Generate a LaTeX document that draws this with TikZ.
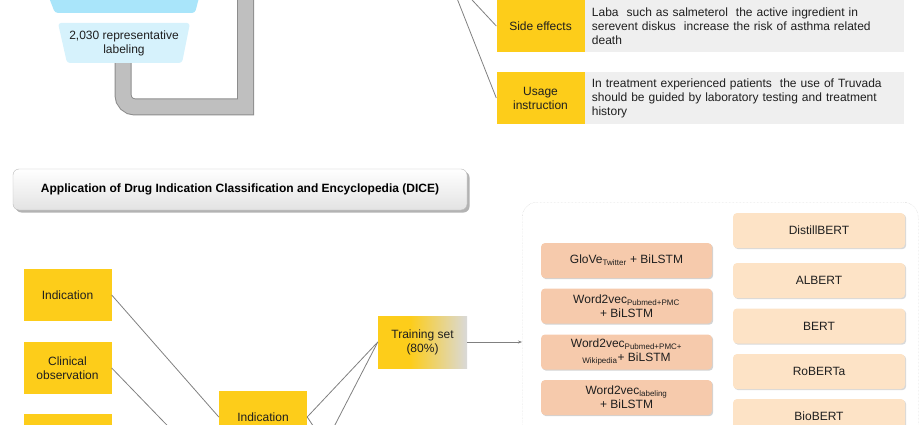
\documentclass[tikz,border=0pt]{standalone}
\usepackage{fontspec}
\setmainfont{Liberation Sans}
\usetikzlibrary{shadows,arrows.meta}

\definecolor{goldbox}{HTML}{FDCD1A}
\definecolor{inkdark}{HTML}{1F1F1F}
\definecolor{notegray}{HTML}{EFEFEF}
\definecolor{fadegray}{HTML}{D9D9D9}
\definecolor{salmon}{HTML}{F6CAAC}
\definecolor{peach}{HTML}{FDE3C6}
\definecolor{bluetop}{HTML}{A9E5FA}
\definecolor{bluelow}{HTML}{D6F2FC}
\definecolor{pipefill}{HTML}{BFBFBF}
\definecolor{pipeedge}{HTML}{8C8C8C}
\definecolor{linegray}{HTML}{808080}

\pgfdeclarehorizontalshading{trainfade}{100bp}{color(0bp)=(goldbox); color(43bp)=(goldbox); color(75bp)=(fadegray); color(100bp)=(fadegray)}

\begin{document}
\begin{tikzpicture}[
				x={(1pt,0pt)},
				y={(0pt,-1pt)},
				line join=round,
				font=\fontsize{12}{14}\selectfont,
				txt/.style={text=inkdark, align=center, inner sep=0pt},
				yellowbox/.style={fill=goldbox, text=inkdark, align=center, inner sep=0pt, minimum width=88pt, minimum height=52pt},
				graybox/.style={fill=notegray, text=inkdark, align=left, inner xsep=7pt, inner ysep=0pt, text width=305pt, minimum height=52pt},
				titlebar/.style={draw=gray!55, rounded corners=6pt, top color=white, bottom color=gray!22, minimum width=454pt, minimum height=41pt, font=\fontsize{12}{14}\selectfont\bfseries, drop shadow={shadow xshift=2.5pt, shadow yshift=-2.5pt, opacity=0.6}},
				trainbox/.style={shading=trainfade, text=inkdark, align=center, inner sep=0pt, minimum width=89pt, minimum height=52pt},
				lstmbox/.style={fill=salmon, rounded corners=4pt, text=inkdark, align=center, inner sep=0pt, minimum width=171pt, minimum height=35pt, drop shadow={shadow xshift=1.2pt, shadow yshift=-1.2pt, opacity=0.35}},
				bertbox/.style={fill=peach, rounded corners=4pt, text=inkdark, align=center, inner sep=0pt, minimum width=172pt, minimum height=35pt, drop shadow={shadow xshift=1.2pt, shadow yshift=-1.2pt, opacity=0.3}},
				conn/.style={draw=linegray, line width=0.8pt},
				pipe/.style={draw=pipeedge, line width=1pt, double=pipefill, double distance=15pt, line join=miter}
			]

			% Page
			\useasboundingbox (0,0) rectangle (920,425);
			\clip (0,0) rectangle (920,425);

			% Pipe back to the top
			\draw[pipe] (123,50) -- (123,95) arc[start angle=180, end angle=90, radius=12] -- (245.5,107) -- (245.5,-20);

			% Labeling funnel
			\fill[bluetop, rounded corners=3pt] (46,-10) -- (201,-10) -- (195,13) -- (55,13) -- cycle;
			\fill[bluelow, rounded corners=3pt] (58,23) -- (190,23) -- (182,63) -- (67,63) -- cycle;
			\node[txt] (repr) at (124,43) {2,030 representative\\labeling};

			% Categories with examples
			\node[yellowbox] (side) at (540.5,26) {Side effects};
			\node[graybox, anchor=west] (sidetxt) at (side.east) {Laba\ \ such as salmeterol\ \ the active ingredient in\\serevent diskus\ \ increase the risk of asthma related\\death};
			\node[yellowbox] (usage) at (540.5,98) {Usage\\instruction};
			\node[graybox, anchor=west] (usagetxt) at (usage.east) {In treatment experienced patients\ \ the use of Truvada\\should be guided by laboratory testing and treatment\\history};
			\coordinate (src) at (447,-27);
			\draw[conn] (src) -- (side.west);
			\draw[conn] (src) -- (usage.west);

			% Title
			\node[titlebar] (title) at (240,189.5) {Application of Drug Indication Classification and Encyclopedia (DICE)};

			% Labels and data split
			\node[yellowbox] (ind) at (67.5,295) {Indication};
			\node[yellowbox] (clin) at (67.5,368) {Clinical\\observation};
			\node[yellowbox] (third) at (67.5,440) {};
			\node[yellowbox] (mid) at (263,417) {Indication};
			\node[trainbox] (train) at (422.5,342) {Training set\\(80\%)};
			\coordinate (midtwowest) at (219,479);
			\coordinate (midtwoeast) at (307,479);
			\coordinate (testwest) at (378,523);
			\draw[conn] (ind.east) -- (mid.west);
			\draw[conn] (clin.east) -- (midtwowest);
			\draw[conn] (mid.east) -- (train.west);
			\draw[conn] (midtwoeast) -- (train.west);
			\draw[conn] (mid.east) -- (testwest);

			% Models
			\node[draw=gray!45, densely dotted, rounded corners=15pt, minimum width=396pt, minimum height=260pt, anchor=north west] (models) at (522,202) {};
			\draw[conn, line width=0.6pt, -{Stealth[length=4pt, width=3pt]}] (train.east) -- (train.east -| models.west);

			\node[lstmbox] (glove) at (626.5,260.5) {GloVe\textsubscript{Twitter} + BiLSTM};
			\node[lstmbox] (wpmc) at (626.5,306) {Word2vec\textsubscript{Pubmed+PMC}\\+ BiLSTM};
			\node[lstmbox] (wwiki) at (626.5,352) {Word2vec\textsubscript{Pubmed+PMC+}\\\textsubscript{Wikipedia}+ BiLSTM};
			\node[lstmbox] (wlab) at (626.5,397.5) {Word2vec\textsubscript{labeling}\\+ BiLSTM};

			\node[bertbox] (distil) at (819,230.5) {DistillBERT};
			\node[bertbox] (albert) at (819,280.5) {ALBERT};
			\node[bertbox] (bert) at (819,326) {BERT};
			\node[bertbox] (roberta) at (819,371.5) {RoBERTa};
			\node[bertbox] (biobert) at (819,416.5) {BioBERT};

		\end{tikzpicture}
\end{document}
